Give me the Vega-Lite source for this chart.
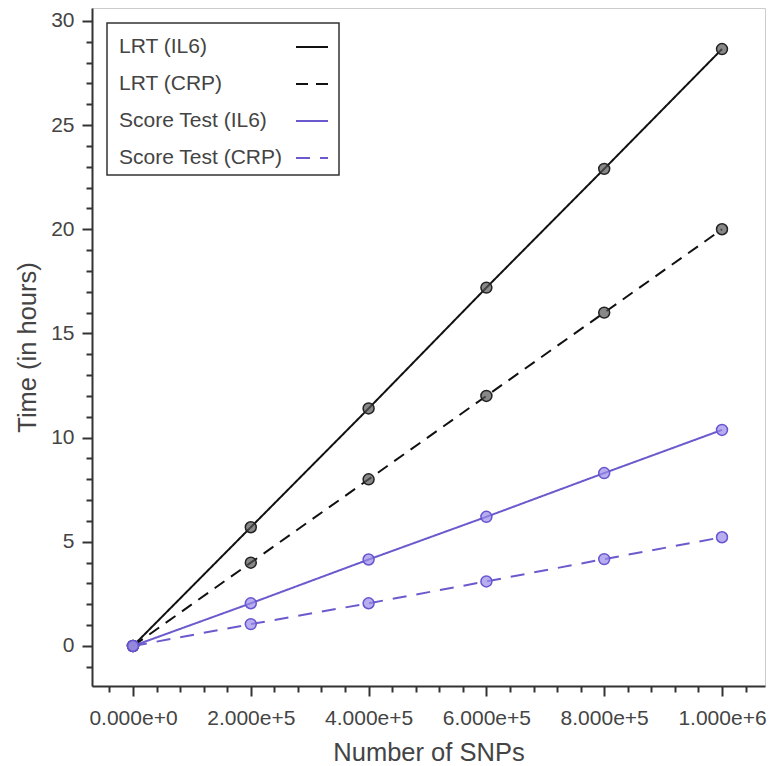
{
  "$schema": "https://vega.github.io/schema/vega-lite/v6.json",
  "width": 673,
  "height": 678,
  "autosize": "none",
  "padding": {"left": 92, "top": 8, "right": 5, "bottom": 80},
  "background": "white",
  "config": {
    "view": {"stroke": "#cccccc", "strokeWidth": 1},
    "font": "Liberation Sans",
    "axis": {
      "domainColor": "#333333",
      "domainWidth": 2,
      "tickColor": "#333333",
      "tickWidth": 2,
      "labelColor": "#444444",
      "labelFont": "Liberation Sans",
      "labelFontSize": 21,
      "titleColor": "#444444",
      "titleFont": "Liberation Sans",
      "titleFontSize": 25.5,
      "titleFontWeight": "normal",
      "grid": false
    }
  },
  "data": {
    "values": [
      {"series": "LRT (IL6)", "snps": 0, "hours": 0},
      {"series": "LRT (IL6)", "snps": 200000, "hours": 5.7},
      {"series": "LRT (IL6)", "snps": 400000, "hours": 11.4},
      {"series": "LRT (IL6)", "snps": 600000, "hours": 17.2},
      {"series": "LRT (IL6)", "snps": 800000, "hours": 22.9},
      {"series": "LRT (IL6)", "snps": 1000000, "hours": 28.65},
      {"series": "LRT (CRP)", "snps": 0, "hours": 0},
      {"series": "LRT (CRP)", "snps": 200000, "hours": 4.0},
      {"series": "LRT (CRP)", "snps": 400000, "hours": 8.0},
      {"series": "LRT (CRP)", "snps": 600000, "hours": 12.0},
      {"series": "LRT (CRP)", "snps": 800000, "hours": 16.0},
      {"series": "LRT (CRP)", "snps": 1000000, "hours": 20.0},
      {"series": "Score Test (IL6)", "snps": 0, "hours": 0},
      {"series": "Score Test (IL6)", "snps": 200000, "hours": 2.05},
      {"series": "Score Test (IL6)", "snps": 400000, "hours": 4.15},
      {"series": "Score Test (IL6)", "snps": 600000, "hours": 6.2},
      {"series": "Score Test (IL6)", "snps": 800000, "hours": 8.3},
      {"series": "Score Test (IL6)", "snps": 1000000, "hours": 10.37},
      {"series": "Score Test (CRP)", "snps": 0, "hours": 0},
      {"series": "Score Test (CRP)", "snps": 200000, "hours": 1.05},
      {"series": "Score Test (CRP)", "snps": 400000, "hours": 2.05},
      {"series": "Score Test (CRP)", "snps": 600000, "hours": 3.1},
      {"series": "Score Test (CRP)", "snps": 800000, "hours": 4.17},
      {"series": "Score Test (CRP)", "snps": 1000000, "hours": 5.22}
    ]
  },
  "encoding": {
    "x": {
      "field": "snps",
      "type": "quantitative",
      "title": "Number of SNPs",
      "scale": {"domain": [-69600, 1073000], "nice": false, "zero": false},
      "axis": {
        "values": [-40000, 0, 40000, 80000, 120000, 160000, 200000, 240000, 280000, 320000, 360000, 400000, 440000, 480000, 520000, 560000, 600000, 640000, 680000, 720000, 760000, 800000, 840000, 880000, 920000, 960000, 1000000, 1040000],
        "labelExpr": "datum.value % 200000 === 0 ? format(datum.value, '.3e') : ''",
        "tickSize": {"condition": {"test": "datum.value % 200000 === 0", "value": 10}, "value": 6},
        "labelPadding": 11,
        "titlePadding": 12
      }
    },
    "y": {
      "field": "hours",
      "type": "quantitative",
      "title": "Time (in hours)",
      "scale": {"domain": [-1.92, 30.62], "nice": false, "zero": false},
      "axis": {
        "values": [-1, 0, 1, 2, 3, 4, 5, 6, 7, 8, 9, 10, 11, 12, 13, 14, 15, 16, 17, 18, 19, 20, 21, 22, 23, 24, 25, 26, 27, 28, 29, 30],
        "labelExpr": "datum.value % 5 === 0 ? format(datum.value, 'd') : ''",
        "tickSize": {"condition": {"test": "datum.value % 5 === 0", "value": 10}, "value": 6},
        "labelPadding": 8,
        "titlePadding": 10
      }
    }
  },
  "layer": [
    {
      "mark": {"type": "line", "strokeWidth": 2},
      "encoding": {
        "color": {
          "field": "series",
          "type": "nominal",
          "scale": {
            "domain": ["LRT (IL6)", "LRT (CRP)", "Score Test (IL6)", "Score Test (CRP)"],
            "range": ["#111111", "#111111", "#6a5acd", "#6a5acd"]
          },
          "legend": {
            "title": null,
            "orient": "top-left",
            "offset": 15,
            "padding": 7,
            "rowPadding": 10,
            "fillColor": "white",
            "strokeColor": "#333333",
            "labelFont": "Liberation Sans",
            "labelFontSize": 21,
            "labelColor": "#444444",
            "labelLimit": 400,
            "symbolType": "stroke",
            "symbolSize": 1024,
            "symbolStrokeWidth": 2,
            "labelOffset": -29,
            "encode": {
              "legend": {"update": {"strokeWidth": {"value": 1.5}}},
              "symbols": {"update": {"x": {"value": 198}}}
            }
          }
        },
        "strokeDash": {
          "field": "series",
          "type": "nominal",
          "scale": {
            "domain": ["LRT (IL6)", "LRT (CRP)", "Score Test (IL6)", "Score Test (CRP)"],
            "range": [[1, 0], [12, 8], [1, 0], [14, 10]]
          },
          "legend": {
            "title": null,
            "orient": "top-left",
            "offset": 15,
            "padding": 7,
            "rowPadding": 10,
            "fillColor": "white",
            "strokeColor": "#333333",
            "labelFont": "Liberation Sans",
            "labelFontSize": 21,
            "labelColor": "#444444",
            "labelLimit": 400,
            "symbolType": "stroke",
            "symbolSize": 1024,
            "symbolStrokeWidth": 2,
            "labelOffset": -29,
            "encode": {
              "symbols": {"update": {"x": {"value": 198}}}
            }
          }
        }
      }
    },
    {
      "mark": {"type": "point", "shape": "circle", "filled": false, "size": 120, "strokeWidth": 1.5, "fillOpacity": 0.7},
      "encoding": {
        "fill": {
          "field": "series",
          "type": "nominal",
          "scale": {
            "domain": ["LRT (IL6)", "LRT (CRP)", "Score Test (IL6)", "Score Test (CRP)"],
            "range": ["#555555", "#555555", "#9a8ce8", "#9a8ce8"]
          },
          "legend": null
        },
        "stroke": {
          "field": "series",
          "type": "nominal",
          "scale": {
            "domain": ["LRT (IL6)", "LRT (CRP)", "Score Test (IL6)", "Score Test (CRP)"],
            "range": ["#222222", "#222222", "#6655d0", "#6655d0"]
          },
          "legend": null
        }
      }
    }
  ]
}
